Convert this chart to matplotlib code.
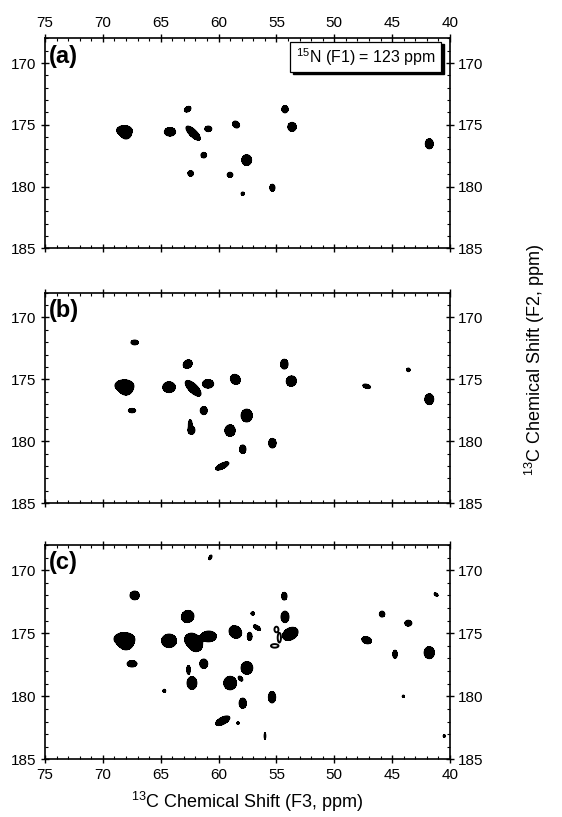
import numpy as np
import matplotlib
matplotlib.use("Agg")
import matplotlib.pyplot as plt
from matplotlib.patches import Rectangle
from matplotlib.ticker import MultipleLocator

plt.rcParams['font.family'] = ['Liberation Sans', 'DejaVu Sans']
plt.rcParams['mathtext.fontset'] = 'custom'
plt.rcParams['mathtext.rm'] = 'Liberation Sans'

# Peak tables: 13C F3 shift, 13C F2 shift, half-widths (ppm) and tilt (deg)
a_f3 = [68.15, 68.0, 64.2, 62.67, 62.2, 60.89, 61.28, 62.41, 59.01, 57.91,
        58.49, 57.57, 55.35, 54.26, 53.65, 41.79]
a_f2 = [175.45, 175.8, 175.57, 173.74, 175.68, 175.33, 177.46, 178.94, 179.05,
        180.58, 174.98, 177.86, 180.1, 173.74, 175.17, 176.54]
a_wx = [0.66, 0.4, 0.48, 0.3, 0.78, 0.3, 0.24, 0.24, 0.24, 0.14,
        0.32, 0.42, 0.22, 0.27, 0.36, 0.34]
a_wy = [0.38, 0.34, 0.34, 0.2, 0.3, 0.22, 0.22, 0.22, 0.2, 0.13,
        0.25, 0.43, 0.28, 0.29, 0.36, 0.4]
a_tilt = [0, 0, 0, 30, -42, 0, 0, 0, 0, 0, -35, 0, 0, 0, 20, 0]

b_f3 = [67.25, 62.67, 68.15, 68.0, 64.28, 62.2, 60.91, 58.55, 54.32, 53.71,
        47.2, 43.6, 41.79, 67.48, 61.28, 57.57, 62.45, 62.35, 59.01, 55.35, 57.91, 59.68]
b_f2 = [172.02, 173.77, 175.5, 175.85, 175.63, 175.72, 175.36, 175.0, 173.77,
        175.14, 175.56, 174.23, 176.6, 177.52, 177.52, 177.92, 178.6, 179.1, 179.13,
        180.15, 180.64, 181.99]
b_wx = [0.32, 0.4, 0.8, 0.48, 0.54, 0.85, 0.48, 0.44, 0.32, 0.44,
        0.34, 0.15, 0.38, 0.31, 0.3, 0.48, 0.15, 0.3, 0.44, 0.32, 0.27, 0.62]
b_wy = [0.19, 0.32, 0.46, 0.4, 0.43, 0.36, 0.34, 0.38, 0.39, 0.41,
        0.16, 0.14, 0.43, 0.17, 0.32, 0.51, 0.34, 0.34, 0.46, 0.38, 0.34, 0.22]
b_tilt = [0, 30, 0, 0, 0, -42, 0, -35, 0, 20,
          -15, 0, 0, 0, 0, 0, 0, 0, 0, 0, 0, 25]

c_f3 = [60.71, 67.25, 62.67, 68.15, 68.0, 64.28, 62.35, 61.95, 60.85, 58.55, 57.31,
        57.05, 56.68, 54.32, 54.26, 53.8, 47.2, 45.87, 43.6, 44.75, 41.79, 41.2,
        67.48, 61.28, 57.55, 58.1, 62.6, 62.3, 59.0, 64.69, 55.38, 57.91, 44.03,
        59.64, 58.32, 55.99, 40.49]
c_f2 = [168.98, 172.0, 173.67, 175.45, 175.85, 175.6, 175.5, 175.95, 175.25, 174.9,
        175.25, 173.43, 174.55, 172.06, 173.7, 175.05, 175.55, 173.48, 174.2, 176.67,
        176.54, 171.93, 177.42, 177.42, 177.75, 178.6, 177.9, 178.95, 178.95, 179.57,
        180.07, 180.55, 180.0, 181.94, 182.13, 183.15, 183.15]
c_wx = [0.11, 0.4, 0.54, 0.88, 0.54, 0.64, 0.58, 0.55, 0.66, 0.56, 0.2,
        0.15, 0.15, 0.23, 0.34, 0.7, 0.42, 0.23, 0.3, 0.19, 0.44, 0.18,
        0.42, 0.34, 0.5, 0.14, 0.15, 0.42, 0.55, 0.12, 0.31, 0.31, 0.09,
        0.66, 0.1, 0.07, 0.1]
c_wy = [0.2, 0.34, 0.47, 0.5, 0.45, 0.53, 0.5, 0.5, 0.42, 0.47, 0.32,
        0.13, 0.34, 0.3, 0.45, 0.47, 0.27, 0.23, 0.23, 0.32, 0.47, 0.11,
        0.25, 0.37, 0.5, 0.23, 0.34, 0.5, 0.53, 0.12, 0.45, 0.4, 0.09,
        0.28, 0.1, 0.25, 0.1]
c_tilt = [-30, 0, 15, 0, 0, 0, 0, 0, 0, -30, 0,
          0, 60, 0, 0, 25, -15, 0, 0, 0, 0, -30,
          0, 0, 0, 45, 0, 0, 0, 0, 0, 0, 0,
          25, 0, 0, 0]

# Open (unfilled) contour outline in panel (c)
c_open_f3 = [55.0, 54.75, 55.15]
c_open_f2 = [174.7, 175.35, 176.0]
c_open_wx = [0.17, 0.14, 0.32]
c_open_wy = [0.22, 0.38, 0.14]
c_open_tilt = [0, 0, 0]

panel_tags = ['(a)', '(b)', '(c)']
x_ticks = [75, 70, 65, 60, 55, 50, 45, 40]
y_ticks = [170, 175, 180, 185]

LEVEL = 0.25
K = np.log(1.0 / LEVEL)

gx = np.linspace(40, 75, 1751)
gy = np.linspace(168, 185, 851)
GX, GY = np.meshgrid(gx, gy)


def peak_field(f3, f2, wx, wy, tilt):
    z = np.zeros_like(GX)
    for x0, y0, rx, ry, t in zip(f3, f2, wx, wy, tilt):
        du = -(GX - x0)
        dv = -(GY - y0)
        th = np.deg2rad(t)
        a = du * np.cos(th) + dv * np.sin(th)
        b = -du * np.sin(th) + dv * np.cos(th)
        z += np.exp(-K * ((a / rx) ** 2 + (b / ry) ** 2))
    return z


fig = plt.figure(figsize=(5.62, 8.17), dpi=100)
boxes = [[0.0801, 0.6961, 0.7206, 0.2570],
         [0.0801, 0.3840, 0.7206, 0.2578],
         [0.0801, 0.0706, 0.7206, 0.2623]]
tables = [(a_f3, a_f2, a_wx, a_wy, a_tilt),
          (b_f3, b_f2, b_wx, b_wy, b_tilt),
          (c_f3, c_f2, c_wx, c_wy, c_tilt)]

axes = []
for i, (box, tab) in enumerate(zip(boxes, tables)):
    ax = fig.add_axes(box)
    axes.append(ax)
    z = peak_field(*tab)
    ax.contourf(GX, GY, z, levels=[LEVEL, z.max() + 1], colors='black')
    ax.contour(GX, GY, z, levels=[LEVEL], colors='black', linewidths=0.8)
    if i == 2:
        zo = peak_field(c_open_f3, c_open_f2, c_open_wx, c_open_wy, c_open_tilt)
        ax.contour(GX, GY, zo, levels=[LEVEL], colors='black', linewidths=1.4)
    ax.set_xlim(75, 40)
    ax.set_ylim(185, 168)
    ax.set_xticks(x_ticks)
    ax.set_yticks(y_ticks)
    ax.xaxis.set_minor_locator(MultipleLocator(1))
    ax.yaxis.set_minor_locator(MultipleLocator(1))
    ax.tick_params(which='major', direction='inout', length=6, width=1.0,
                   top=True, right=True, labelsize=11,
                   labelleft=True, labelright=True,
                   labeltop=(i == 0), labelbottom=(i == 2), pad=3)
    ax.tick_params(which='minor', direction='in', length=2.5, width=0.8,
                   top=True, right=True)
    for s in ax.spines.values():
        s.set_linewidth(1.2)
    ax.text(0.01, 0.97, panel_tags[i], transform=ax.transAxes,
            fontsize=17, fontweight='bold', ha='left', va='top')

# Acquisition note with drop shadow
ax = axes[0]
ax.add_patch(Rectangle((0.612, 0.829), 0.373, 0.143, transform=ax.transAxes,
                       facecolor='black', edgecolor='black', zorder=5))
ax.add_patch(Rectangle((0.605, 0.841), 0.373, 0.143, transform=ax.transAxes,
                       facecolor='white', edgecolor='black', linewidth=0.9, zorder=6))
ax.text(0.7915, 0.912, r'$^{15}$N (F1) = 123 ppm', transform=ax.transAxes,
        fontsize=11.5, ha='center', va='center', zorder=7)

axes[2].set_xlabel(r'$^{13}$C Chemical Shift (F3, ppm)', fontsize=13, labelpad=6)
fig.text(535 / 562, 1 - 360 / 817, r'$^{13}$C Chemical Shift (F2, ppm)',
         rotation=90, fontsize=13, ha='center', va='center')

fig.savefig('out.png', dpi=100)
